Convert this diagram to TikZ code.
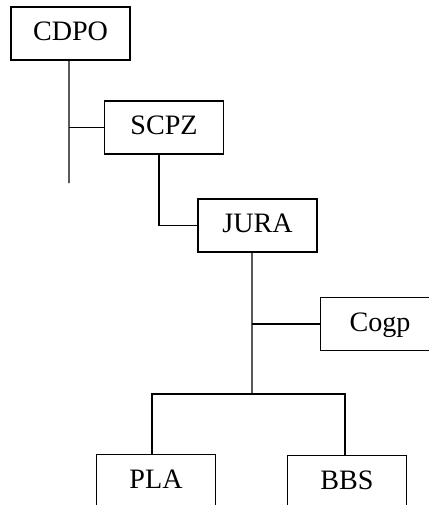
\documentclass[tikz,border=0pt]{standalone}
\usepackage{fontspec}
\setmainfont{Liberation Serif}
\usetikzlibrary{positioning}
\begin{document}
\begin{tikzpicture}[
  x=0.02cm, y=-0.02cm,
  unit/.style={draw, line width=0.8pt, minimum width=2.38cm, minimum height=1.06cm,
               inner sep=0pt, text height=0.85em, text depth=0pt,
               font=\fontsize{16}{19}\selectfont},
  link/.style={line width=0.7pt}
]
\useasboundingbox (0,0) rectangle (429,505);
\clip (0,0) rectangle (429,505);

\node[unit] (cdpo) at (70.5,33.5) {CDPO};
\node[unit] (scpz) at (164,127.5) {SCPZ};
\node[unit] (jura) at (257.5,225.5) {JURA};
\node[unit] (cogp) at (380,324) {Cogp};
\node[unit] (pla) at (156,481) {PLA};
\node[unit] (bbs) at (347,482) {BBS};

\coordinate (cdpoend) at (69,183);
\coordinate (split) at (252,394);

\draw[link] ([xshift=-0.03cm]cdpo.south) -- (cdpoend);
\draw[link] (cdpoend |- scpz.west) -- (scpz.west);
\draw[link] ([xshift=-0.1cm]scpz.south) |- (jura.west);
\draw[link] ([xshift=-0.11cm]jura.south) -- (split);
\draw[link] (split |- cogp.west) -- (cogp.west);
\draw[link] ([xshift=-0.08cm]pla.north) |- ([xshift=-0.04cm]bbs.north |- split) -- ([xshift=-0.04cm]bbs.north);
\end{tikzpicture}
\end{document}
